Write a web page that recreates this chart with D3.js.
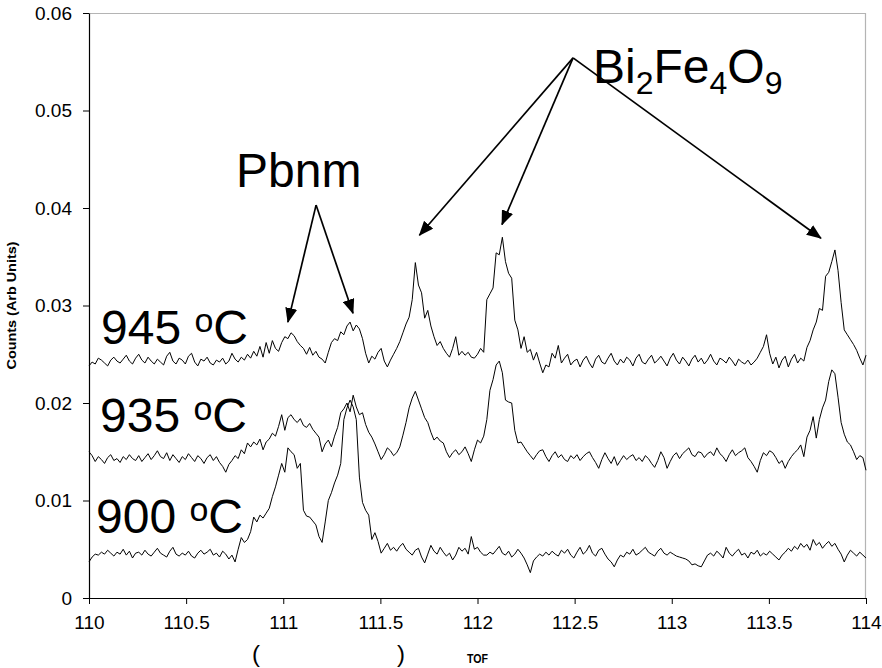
<!DOCTYPE html>
<html>
<head>
<meta charset="utf-8">
<script src="https://cdn.jsdelivr.net/npm/d3@7/dist/d3.min.js"></script>
<style>
  body { margin: 0; background: #fff; }
  svg { display: block; }
  text { font-family: "Liberation Sans", Arial, Helvetica, sans-serif; fill: #000; }
</style>
</head>
<body>
<svg id="chart" width="882" height="668"></svg>
<script>
// TOF sampling grid
const tofStart = 110;
const tofStep = 0.016;

// axis ticks
const xTicks = [110, 110.5, 111, 111.5, 112, 112.5, 113, 113.5, 114];
const yTicks = [0, 0.01, 0.02, 0.03, 0.04, 0.05, 0.06];

// counts are stored in units of 1e-4 (arb. units)
const countUnit = 1e-4;

const counts945 = [
  238, 242, 240, 246, 244, 241, 238, 244, 247, 243,
  241, 245, 249, 243, 240, 246, 250, 244, 241, 247,
  243, 240, 245, 242, 239, 248, 252, 243, 240, 246,
  244, 240, 248, 251, 242, 238, 245, 243, 247, 241,
  239, 244, 242, 246, 240, 243, 251, 245, 242, 247,
  244, 250, 246, 253, 248, 258, 247, 262, 251, 264,
  256, 253, 262, 268, 266, 272, 269, 263, 259, 256,
  250, 257, 249, 253, 247, 245, 241, 252, 262, 266,
  264, 273, 270, 279, 283, 274, 280, 276, 266, 251,
  241, 248, 245, 252, 256, 243, 237, 244, 250, 256,
  263, 272, 281, 288, 306, 344, 321, 313, 287, 295,
  279, 268, 259, 263, 256, 251, 247, 256, 268, 249,
  253, 249, 252, 247, 246, 250, 256, 252, 306, 312,
  318, 354, 352, 370, 345, 333, 328, 285, 275, 256,
  268, 252, 255, 244, 252, 241, 231, 239, 237, 251,
  246, 259, 241, 246, 250, 239, 243, 245, 237, 244,
  248, 241, 236, 245, 249, 242, 240, 246, 251, 243,
  239, 245, 241, 247, 244, 238, 246, 250, 242, 240,
  245, 249, 241, 244, 248, 243, 238, 246, 251, 244,
  240, 247, 243, 238, 245, 249, 242, 246, 240, 244,
  250, 243, 239, 246, 244, 241, 247, 243, 238, 245,
  242, 240, 244, 239, 242, 246, 252, 258, 270, 251,
  240, 247, 236, 244, 248, 237, 245, 250, 241, 246,
  243, 257, 264, 275, 283, 297, 295, 330, 334, 345,
  357, 336, 303, 275, 270, 265, 260, 254, 246, 239, 249
];

const counts935 = [
  150, 146, 140, 145, 142, 138, 144, 147, 141, 143,
  139, 145, 142, 147, 143, 141, 146, 140, 144, 148,
  142, 146, 151, 145, 143, 149, 141, 147, 143, 139,
  145, 142, 148, 144, 140, 146, 143, 138, 144, 147,
  141, 145, 139, 135, 129, 137, 141, 146, 143, 152,
  148, 159, 155, 160, 157, 163, 152, 160, 163, 169,
  166, 176, 188, 172, 185, 188, 183, 180, 184, 177,
  175, 179, 173, 169, 165, 150, 158, 162, 155, 166,
  175, 190, 194, 200, 191, 208, 196, 188, 190, 178,
  170, 165, 158, 150, 142, 147, 154, 151, 146, 149,
  155, 167, 180, 195, 205, 212, 203, 194, 185, 180,
  170, 162, 165, 161, 159, 150, 144, 149, 152, 147,
  150, 155, 148, 140, 152, 162, 159, 166, 183, 213,
  224, 239, 243, 231, 203, 201, 200, 172, 159, 160,
  155, 150, 146, 142, 147, 151, 152, 145, 140, 146,
  150, 144, 147, 142, 140, 146, 143, 147, 141, 145,
  148, 150, 144, 139, 133, 142, 149, 143, 138, 145,
  136, 141, 146, 142, 145, 147, 141, 144, 140, 146,
  143, 138, 134, 141, 150, 144, 133, 140, 146, 149,
  143, 148, 151, 154, 147, 145, 150, 149, 144, 148,
  150, 146, 154, 148, 145, 140, 147, 152, 146, 149,
  151, 154, 144, 140, 135, 129, 141, 149, 146, 151,
  149, 144, 138, 141, 133, 140, 145, 149, 152, 157,
  145, 165, 172, 186, 164, 183, 195, 203, 222, 234,
  230, 206, 180, 168, 160, 157, 150, 142, 146, 144, 131
];

const counts900 = [
  37, 42, 45, 44, 47, 45, 49, 46, 43, 47,
  45, 50, 44, 48, 41, 46, 47, 44, 49, 45,
  43, 47, 51, 46, 44, 42, 48, 52, 45, 43,
  46, 44, 48, 43, 41, 46, 49, 45, 47, 50,
  44, 46, 42, 48, 45, 40, 44, 37, 50, 62,
  57, 60, 68, 83, 78, 85, 82, 87, 92, 104,
  114, 126, 138, 129, 154, 150, 147, 133, 138, 90,
  84, 83, 79, 75, 63, 57, 78, 100, 108, 118,
  126, 138, 183, 195, 203, 196, 183, 124, 98, 90,
  85, 60, 67, 58, 46, 51, 56, 49, 52, 48,
  53, 56, 50, 47, 44, 49, 51, 42, 36, 45,
  54, 48, 45, 52, 47, 43, 46, 39, 44, 52,
  48, 51, 45, 63, 50, 52, 47, 44, 44, 47,
  45, 49, 53, 46, 44, 48, 42, 45, 50, 46,
  41, 34, 26, 38, 42, 45, 43, 47, 44, 48,
  45, 43, 49, 46, 50, 44, 41, 47, 52, 45,
  48, 54, 46, 43, 49, 51, 45, 40, 37, 32,
  39, 44, 42, 47, 45, 50, 44, 46, 49, 52,
  47, 45, 43, 48, 51, 46, 44, 47, 45, 43,
  42, 41, 40, 38, 34, 35, 33, 32, 38, 44,
  46, 43, 48, 45, 41, 52, 46, 43, 47, 50,
  44, 46, 41, 47, 45, 49, 43, 46, 44, 48,
  45, 42, 39, 44, 47, 51, 48, 53, 50, 56,
  52, 55, 49, 60, 54, 57, 51, 55, 58, 53,
  56, 50, 45, 37, 44, 49, 46, 43, 47, 44, 41
];

const temperatures = ["945", "935", "900"];
const seriesCounts = [counts945, counts935, counts900];

// peak assignments: [TOF, counts] of arrow origin and arrow tips
const pbnmApex = [111.169, 0.0403];
const pbnmTips = [[111.024, 0.0283], [111.359, 0.0292]];
const bfoApex = [112.492, 0.0554];
const bfoTips = [[111.701, 0.0372], [112.126, 0.0383], [113.768, 0.0369]];

// ---------------------------------------------------------------
const svg = d3.select("#chart");
const plot = { left: 89, right: 866, top: 13, bottom: 598 };

const x = d3.scaleLinear().domain([110, 114]).range([plot.left, plot.right]);
const y = d3.scaleLinear().domain([0, 0.06]).range([plot.bottom, plot.top]);

// plot frame: light top/right edges
svg.append("path")
  .attr("d", `M${plot.left},${plot.top + 0.5}H${plot.right - 0.5}V${plot.bottom}`)
  .attr("fill", "none")
  .attr("stroke", "#b4b4b4")
  .attr("stroke-width", 1.2);

// axes
const yAxis = d3.axisLeft(y)
  .tickValues(yTicks)
  .tickSize(6)
  .tickSizeOuter(0)
  .tickPadding(11)
  .tickFormat(d => d === 0 ? "0" : d3.format(".2f")(d));

const xAxis = d3.axisBottom(x)
  .tickValues(xTicks)
  .tickSize(6)
  .tickSizeOuter(0)
  .tickPadding(12)
  .tickFormat(d => Number.isInteger(d) ? String(d) : d.toFixed(1));

const gy = svg.append("g").attr("transform", `translate(${plot.left},0)`).call(yAxis);
const gx = svg.append("g").attr("transform", `translate(0,${plot.bottom})`).call(xAxis);

[gx, gy].forEach(g => {
  g.select(".domain").attr("stroke", "#000").attr("stroke-width", 1.2);
  g.selectAll(".tick line").attr("stroke", "#000").attr("stroke-width", 1);
  g.selectAll(".tick text")
    .attr("font-family", "'Liberation Sans', Arial, sans-serif")
    .attr("font-size", 19)
    .attr("fill", "#000");
});

// axis titles
svg.append("text")
  .attr("transform", `translate(16,${(plot.top + plot.bottom) / 2}) rotate(-90)`)
  .attr("text-anchor", "middle")
  .attr("font-size", 12.5)
  .attr("font-weight", "bold")
  .attr("textLength", 128)
  .attr("lengthAdjust", "spacingAndGlyphs")
  .text("Counts (Arb Units)");

svg.append("text")
  .attr("x", (plot.left + plot.right) / 2)
  .attr("y", 663)
  .attr("text-anchor", "middle")
  .attr("font-size", 13)
  .attr("font-weight", "bold")
  .attr("textLength", 21)
  .attr("lengthAdjust", "spacingAndGlyphs")
  .text("TOF");

// bracket marks under the x axis
svg.append("text").attr("x", 252).attr("y", 662).attr("font-size", 24).text("(");
svg.append("text").attr("x", 397).attr("y", 662).attr("font-size", 24).text(")");

// diffraction traces
const line = d3.line()
  .x((d, i) => x(tofStart + i * tofStep))
  .y(d => y(d * countUnit));

svg.append("g")
  .selectAll("path")
  .data(seriesCounts)
  .join("path")
  .attr("d", line)
  .attr("fill", "none")
  .attr("stroke", "#000")
  .attr("stroke-width", 1)
  .attr("stroke-linejoin", "round");

// temperature labels
const tempPos = [[101, 344], [100, 432], [96, 533]];
temperatures.forEach((t, k) => {
  const lbl = svg.append("text")
    .attr("x", tempPos[k][0])
    .attr("y", tempPos[k][1])
    .attr("font-size", 48);
  lbl.append("tspan").text(t + " ");
  lbl.append("tspan").attr("font-size", 34).attr("dy", -12).text("o");
  lbl.append("tspan").attr("dy", 12).text("C");
});

// arrows
const defs = svg.append("defs");
defs.append("marker")
  .attr("id", "head")
  .attr("markerUnits", "userSpaceOnUse")
  .attr("viewBox", "0 0 15 12")
  .attr("markerWidth", 15)
  .attr("markerHeight", 12)
  .attr("refX", 14)
  .attr("refY", 6)
  .attr("orient", "auto")
  .append("path")
  .attr("d", "M0,0L15,6L0,12Z")
  .attr("fill", "#000");

function arrows(apex, tips) {
  tips.forEach(tp => {
    svg.append("line")
      .attr("x1", x(apex[0])).attr("y1", y(apex[1]))
      .attr("x2", x(tp[0])).attr("y2", y(tp[1]))
      .attr("stroke", "#000")
      .attr("stroke-width", 1.7)
      .attr("marker-end", "url(#head)");
  });
}
arrows(pbnmApex, pbnmTips);
arrows(bfoApex, bfoTips);

// phase labels
svg.append("text").attr("x", 236).attr("y", 187).attr("font-size", 48).text("Pbnm");

const bfo = svg.append("text").attr("x", 593).attr("y", 83).attr("font-size", 48);
[["Bi", 0], ["2", 1], ["Fe", 0], ["4", 1], ["O", 0], ["9", 1]].forEach(([s, sub], k, arr) => {
  const prevSub = k > 0 ? arr[k - 1][1] : 0;
  bfo.append("tspan")
    .attr("font-size", sub ? 32 : 48)
    .attr("dy", (sub - prevSub) * 11)
    .text(s);
});
</script>
</body>
</html>
